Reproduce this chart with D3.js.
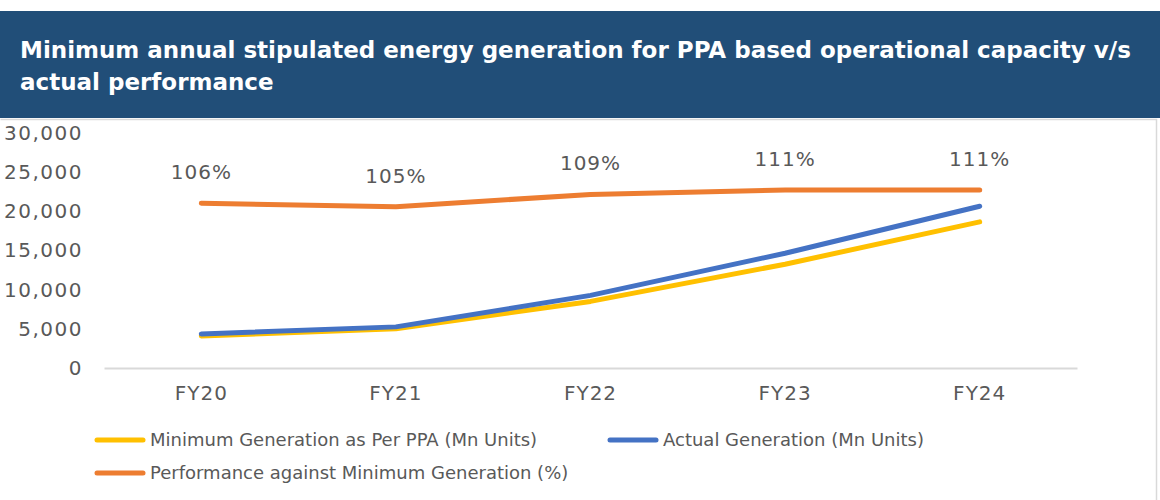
<!DOCTYPE html>
<html>
<head>
<meta charset="utf-8">
<script src="https://cdn.jsdelivr.net/npm/d3@7"></script>
<style>
  html, body { margin: 0; padding: 0; background: #ffffff; }
  svg { display: block; }
</style>
</head>
<body>
<svg id="chart" width="1160" height="500"></svg>
<script>
const categories = ["FY20", "FY21", "FY22", "FY23", "FY24"];
const minGeneration = [4100, 5000, 8500, 13250, 18650];
const actualGeneration = [4350, 5250, 9270, 14650, 20650];
const performancePct = [1.061, 1.049, 1.091, 1.106, 1.106];
const yTicks = [0, 5000, 10000, 15000, 20000, 25000, 30000];
const titleLines = [
  "Minimum annual stipulated energy generation for PPA based operational capacity v/s",
  "actual performance"
];
const legendItems = [
  { name: "Minimum Generation as Per PPA (Mn Units)", color: "#FFC000" },
  { name: "Actual Generation (Mn Units)", color: "#4472C4" },
  { name: "Performance against Minimum Generation (%)", color: "#ED7D31" }
];

const svg = d3.select("#chart");
const FONT = "'DejaVu Sans', sans-serif";
const TXT = "#595959";

// Title band
svg.append("rect").attr("x", 0).attr("y", 11).attr("width", 1160).attr("height", 107).attr("fill", "#214E78");
svg.selectAll("text.title").data(titleLines).join("text")
  .attr("class", "title")
  .attr("x", 20)
  .attr("y", (d, i) => 58 + i * 32)
  .attr("fill", "#ffffff")
  .attr("font-family", FONT)
  .attr("font-weight", "bold")
  .attr("font-size", 23)
  .text(d => d);

// Chart border
svg.append("path")
  .attr("d", "M0.5,119.5 H1156.5 V500")
  .attr("fill", "none").attr("stroke", "#d9d9d9").attr("stroke-width", 1.5);

// Scales
const x = d3.scaleBand().domain(categories).range([104, 1077]);
const y = d3.scaleLinear().domain([0, 30000]).range([368, 133]);
const y2 = d3.scaleLinear().domain([0.5, 1.3]).range([368, 133]);
const cx = d => x(d) + x.bandwidth() / 2;

// Y axis labels
const yAxis = d3.axisLeft(y).tickValues(yTicks).tickSize(0).tickPadding(0).tickFormat(d3.format(","));
const yg = svg.append("g").attr("transform", "translate(83,0)").call(yAxis);
yg.select(".domain").remove();
yg.selectAll("text").attr("font-family", FONT).attr("font-size", 20).attr("fill", TXT).attr("letter-spacing", 1.5);

// X axis
const xAxis = d3.axisBottom(x).tickSize(0).tickPadding(18);
const xg = svg.append("g").attr("transform", "translate(0,368)").call(xAxis);
xg.select(".domain").attr("stroke", "#d9d9d9").attr("stroke-width", 2);
xg.selectAll("text").attr("font-family", FONT).attr("font-size", 20).attr("fill", TXT).attr("letter-spacing", 1);

// Lines
const lineGen = (scale) => d3.line().x((d, i) => cx(categories[i])).y(d => scale(d));
const series = [
  { vals: minGeneration, scale: y, color: "#FFC000" },
  { vals: actualGeneration, scale: y, color: "#4472C4" },
  { vals: performancePct, scale: y2, color: "#ED7D31" }
];
svg.selectAll("path.series").data(series).join("path")
  .attr("class", "series")
  .attr("d", s => lineGen(s.scale)(s.vals))
  .attr("fill", "none")
  .attr("stroke", s => s.color)
  .attr("stroke-width", 5)
  .attr("stroke-linecap", "round")
  .attr("stroke-linejoin", "round");

// Percentage labels
svg.selectAll("text.pct").data(performancePct).join("text")
  .attr("class", "pct")
  .attr("x", (d, i) => cx(categories[i]))
  .attr("y", d => y2(d) - 31)
  .attr("dy", "0.35em")
  .attr("text-anchor", "middle")
  .attr("font-family", FONT)
  .attr("font-size", 20)
  .attr("fill", TXT)
  .attr("letter-spacing", 1)
  .text(d => Math.round(d * 100) + "%");

// Legend
const legendPos = [
  { lx: 97, ly: 440 },
  { lx: 610, ly: 440 },
  { lx: 97, ly: 473 }
];
const lg = svg.selectAll("g.legend").data(legendItems).join("g")
  .attr("class", "legend")
  .attr("transform", (d, i) => `translate(${legendPos[i].lx},${legendPos[i].ly})`);
lg.append("line").attr("x1", 0).attr("x2", 46).attr("y1", 0).attr("y2", 0)
  .attr("stroke", d => d.color).attr("stroke-width", 5).attr("stroke-linecap", "round");
lg.append("text").attr("x", 53).attr("y", 0).attr("dy", "0.35em")
  .attr("font-family", FONT).attr("font-size", 18).attr("fill", TXT)
  .text(d => d.name);
</script>
</body>
</html>
